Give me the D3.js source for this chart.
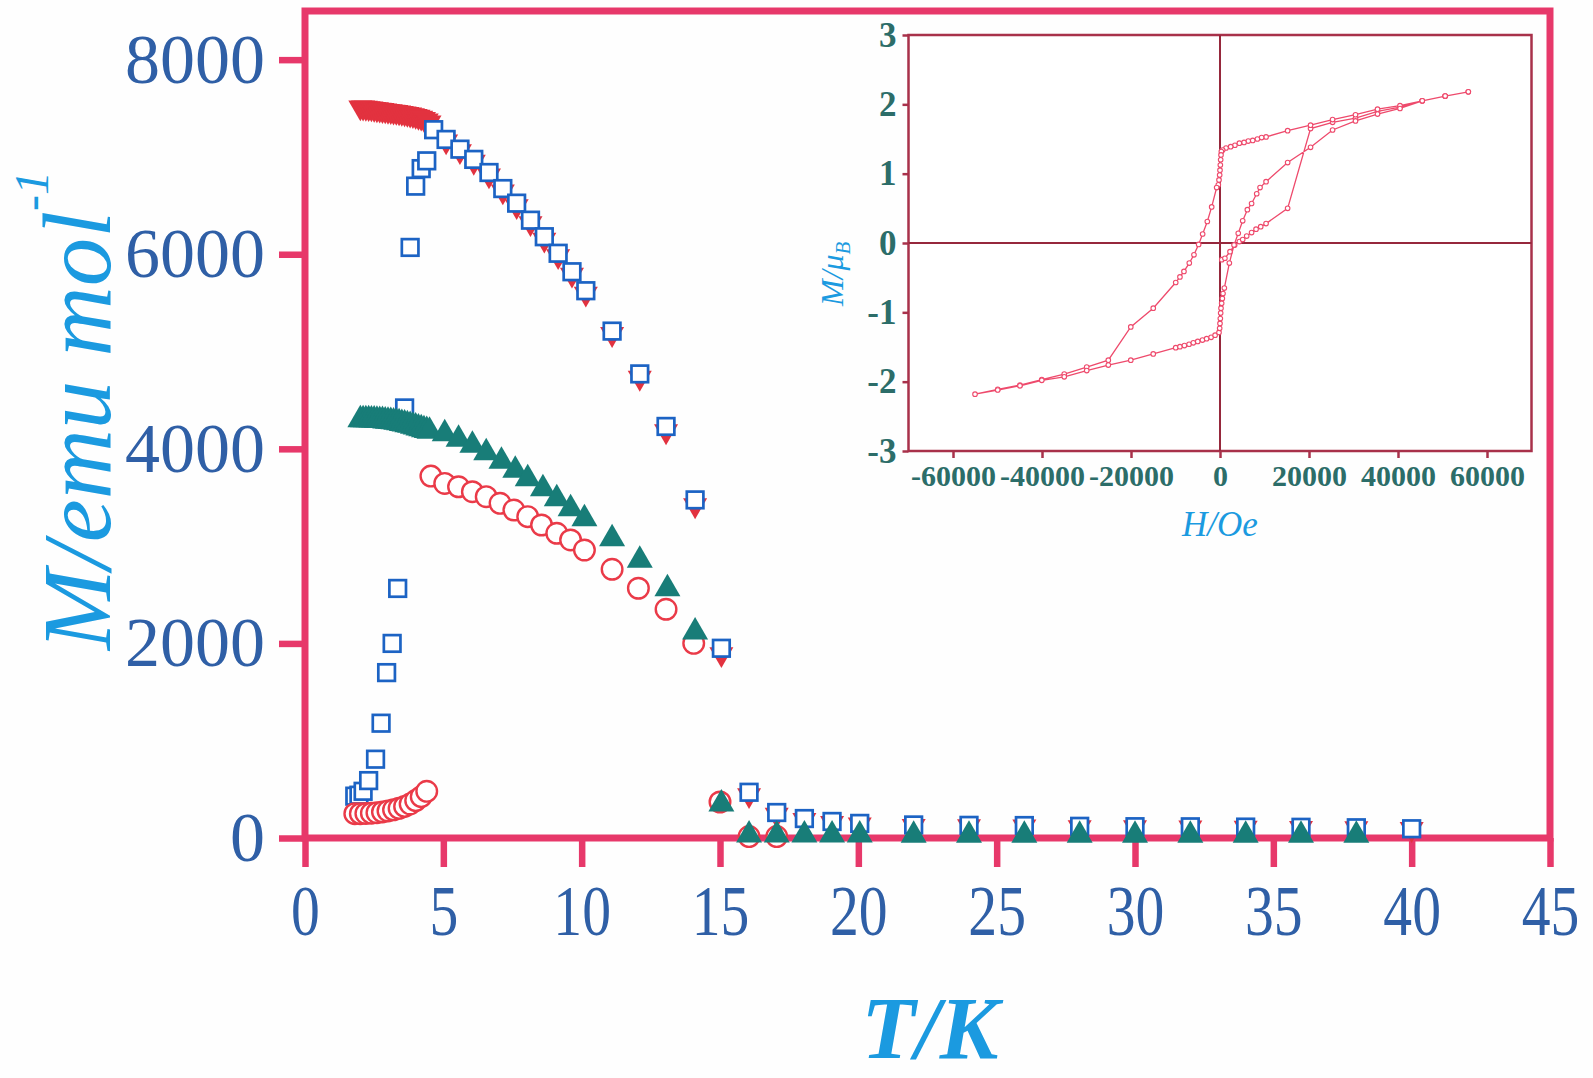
<!DOCTYPE html>
<html>
<head>
<meta charset="utf-8">
<script src="https://cdn.jsdelivr.net/npm/d3@7"></script>
<style>
body { margin: 0; background: #fff; }
</style>
</head>
<body>
<svg width="1593" height="1078"></svg>
<script>
// main plot: M vs T
var xTicks = [0, 5, 10, 15, 20, 25, 30, 35, 40, 45];
var yTicks = [0, 2000, 4000, 6000, 8000];

// blue open squares
var sqT = [1.8, 1.95, 2.1, 2.3, 2.55, 2.75, 2.95, 3.15, 3.35, 3.6, 3.8, 4.0, 4.2, 4.4, 4.65, 5.1, 5.6, 6.1, 6.65, 7.15, 7.65, 8.15, 8.65, 9.15, 9.65, 10.15, 11.1, 12.1, 13.05, 14.1, 15.05, 16.05, 17.05, 18.05, 19.05, 20.05, 22, 24, 26, 28, 30, 32, 34, 36, 38, 40];
var sqM = [430, 440, 480, 590, 810, 1180, 1700, 2000, 2565, 4420, 6070, 6700, 6880, 6960, 7280, 7180, 7080, 6975, 6840, 6675, 6525, 6350, 6180, 6010, 5820, 5625, 5210, 4770, 4230, 3475, 1950, 470, 262, 200, 170, 150, 134, 130, 128, 120, 116, 115, 112, 110, 105, 95];

// red filled down triangles
var rtT = [2.0, 2.1, 2.2, 2.3, 2.4, 2.5, 2.6, 2.7, 2.8, 2.9, 3.0, 3.1, 3.2, 3.3, 3.4, 3.5, 3.6, 3.7, 3.8, 3.9, 4.0, 4.1, 4.2, 4.3, 4.4, 4.5, 5.1, 5.6, 6.1, 6.65, 7.15, 7.65, 8.15, 8.65, 9.15, 9.65, 10.15, 11.1, 12.1, 13.05, 14.1, 15.05, 16.05, 17.05, 18.05, 19.05, 20.05, 22, 24, 26, 28, 30, 32, 34, 36, 38, 40];
var rtM = [7510, 7508, 7505, 7502, 7498, 7494, 7490, 7486, 7482, 7478, 7474, 7470, 7466, 7462, 7458, 7453, 7448, 7442, 7436, 7430, 7422, 7413, 7403, 7390, 7375, 7355, 7160, 7060, 6950, 6810, 6645, 6495, 6320, 6150, 5980, 5790, 5595, 5180, 4730, 4180, 3420, 1890, 440, 240, 185, 155, 140, 125, 122, 120, 112, 110, 108, 105, 104, 100, 92];

// red open circles
var ciT = [1.8, 2.0, 2.2, 2.4, 2.6, 2.8, 3.0, 3.2, 3.4, 3.6, 3.8, 4.0, 4.2, 4.4, 4.55, 5.05, 5.55, 6.05, 6.55, 7.05, 7.55, 8.05, 8.55, 9.1, 9.6, 10.1, 11.1, 12.05, 13.05, 14.05, 15.0, 16.05, 17.05];
var ciM = [250, 250, 252, 255, 260, 268, 278, 290, 305, 325, 350, 385, 425, 480, 3720, 3644, 3610, 3559, 3508, 3440, 3371, 3303, 3217, 3132, 3063, 2960, 2762, 2567, 2351, 2001, 370, 15, 15];

// green filled up triangles
var gtT = [2.0, 2.1, 2.2, 2.3, 2.4, 2.5, 2.6, 2.7, 2.8, 2.9, 3.0, 3.1, 3.2, 3.3, 3.4, 3.5, 3.6, 3.7, 3.8, 3.9, 4.0, 4.1, 4.2, 4.3, 4.4, 4.5, 5.05, 5.55, 6.05, 6.55, 7.1, 7.6, 8.05, 8.6, 9.1, 9.6, 10.1, 11.1, 12.1, 13.1, 14.1, 15.05, 16.05, 17.05, 18.05, 19.05, 20.05, 22, 24, 26, 28, 30, 32, 34, 36, 38];
var gtM = [4300, 4300, 4299, 4298, 4297, 4296, 4294, 4292, 4290, 4287, 4284, 4281, 4277, 4272, 4267, 4261, 4255, 4248, 4241, 4233, 4224, 4215, 4206, 4197, 4189, 4181, 4156, 4098, 4037, 3960, 3872, 3779, 3693, 3590, 3488, 3385, 3282, 3076, 2854, 2562, 2117, 350, 30, 30, 30, 30, 30, 28, 28, 28, 28, 28, 28, 28, 28, 28];

// inset: hysteresis loop, in measuring order (virgin, down, up)
var loopH = [400, 1100, 2250, 3300, 4350, 5100, 6000, 7100, 8100, 9150, 10350, 15200, 20350, 25300, 30450, 35400, 40450, 45450, 50600, 55800,
  50600, 45450, 40450, 35400, 30450, 25300, 20350, 15200, 10350, 9350, 8400, 7350, 6350, 5400, 4350, 3350, 2400, 1350, 600, 300, 225, 150, 75, 0, -75, -225, -375, -750, -1870, -2850, -3900, -4800, -5850, -6900, -8100, -9000, -9950, -15000, -20050, -25100, -29950, -35000, -40050, -44950, -49950, -55050,
  -49950, -44950, -40050, -35000, -29950, -25100, -20050, -15000, -9950, -9000, -8000, -6950, -6000, -5000, -3950, -3000, -2000, -1100, -225, -75, 0, 75, 150, 225, 375, 525, 675, 975, 2100, 3150, 4100, 5100, 6150, 7100, 8250, 9000, 10350, 15200, 20350, 25300, 30450, 35400, 40450, 45450, 50600, 55800];
var loopM = [-0.24, -0.22, -0.125, -0.03, 0.02, 0.05, 0.10, 0.15, 0.20, 0.235, 0.28, 0.50, 1.65, 1.74, 1.80, 1.90, 1.96, 2.05, 2.12, 2.18,
  2.12, 2.05, 1.98, 1.93, 1.85, 1.78, 1.70, 1.62, 1.53, 1.52, 1.50, 1.48, 1.47, 1.45, 1.44, 1.41, 1.39, 1.37, 1.34, 1.32, 1.27, 1.20, 1.125, 1.05, 0.98, 0.91, 0.84, 0.80, 0.52, 0.31, 0.13, -0.02, -0.17, -0.29, -0.41, -0.49, -0.57, -0.94, -1.21, -1.69, -1.79, -1.89, -1.97, -2.05, -2.11, -2.18,
  -2.12, -2.06, -1.98, -1.93, -1.84, -1.76, -1.69, -1.60, -1.51, -1.495, -1.48, -1.46, -1.44, -1.42, -1.40, -1.38, -1.36, -1.33, -1.29, -1.23, -1.16, -1.09, -1.01, -0.94, -0.87, -0.80, -0.73, -0.65, -0.29, -0.03, 0.14, 0.32, 0.48, 0.57, 0.71, 0.80, 0.885, 1.16, 1.38, 1.63, 1.76, 1.86, 1.94, 2.05, 2.12, 2.18];
var inXTicks = [-60000, -40000, -20000, 0, 20000, 40000, 60000];
var inYTicks = [-3, -2, -1, 0, 1, 2, 3];

var serif = '"Liberation Serif", "Times New Roman", serif';
var pink = '#e7386a';
var tickBlue = '#2f5fa6';
var titleBlue = '#1b9ae0';

var svg = d3.select('svg');
svg.append('rect').attr('width', 1593).attr('height', 1078).attr('fill', '#fefefe');

var x = d3.scaleLinear().domain([0, 45]).range([305, 1550]);
var y = d3.scaleLinear().domain([0, 8500]).range([838, 11]);

// axes
var gx = svg.append('g').attr('transform', 'translate(0,838)')
  .call(d3.axisBottom(x).tickValues(xTicks).tickSize(29).tickPadding(17).tickFormat(d3.format('d')));
gx.select('.domain').remove();
gx.selectAll('line').attr('stroke', pink).attr('stroke-width', 6.5);
gx.selectAll('text').attr('font-family', serif).attr('font-size', 72).attr('fill', tickBlue)
  .attr('transform', 'scale(0.8,1)');

var gy = svg.append('g').attr('transform', 'translate(305,0)')
  .call(d3.axisLeft(y).tickValues(yTicks).tickSize(26).tickPadding(14).tickFormat(d3.format('d')));
gy.select('.domain').remove();
gy.selectAll('line').attr('stroke', pink).attr('stroke-width', 6.5);
gy.selectAll('text').attr('font-family', serif).attr('font-size', 70).attr('fill', tickBlue);

svg.append('rect').attr('x', 305).attr('y', 11).attr('width', 1245).attr('height', 827)
  .attr('fill', 'none').attr('stroke', pink).attr('stroke-width', 7);

// titles
svg.append('text').attr('x', 930).attr('y', 1058).attr('text-anchor', 'middle')
  .attr('font-family', serif).attr('font-style', 'italic').attr('font-weight', 'bold').attr('font-size', 88)
  .attr('fill', titleBlue).text('T/K');

var yt = svg.append('text').attr('transform', 'translate(110,650) rotate(-90)')
  .attr('font-family', serif).attr('font-style', 'italic').attr('fill', titleBlue);
yt.append('tspan').attr('font-size', 97).text('M/emu mol');
yt.append('tspan').attr('font-size', 48).attr('dy', -62).text('-1');

// markers
var triBig = d3.symbol().type(d3.symbolTriangle).size(292)();
var triRed = d3.symbol().type(d3.symbolTriangle).size(250)();

svg.append('g').selectAll('path').data(d3.range(rtT.length)).join('path')
  .attr('d', triRed)
  .attr('transform', function(i) { return 'translate(' + x(rtT[i]) + ',' + y(rtM[i]) + ') rotate(180)'; })
  .attr('fill', '#e2323f');

svg.append('g').selectAll('rect').data(d3.range(sqT.length)).join('rect')
  .attr('x', function(i) { return x(sqT[i]) - 8.3; })
  .attr('y', function(i) { return y(sqM[i]) - 8.3; })
  .attr('width', 16.6).attr('height', 16.6)
  .attr('fill', '#fff').attr('stroke', '#1c63c4').attr('stroke-width', 2.7);

svg.append('g').selectAll('circle').data(d3.range(ciT.length)).join('circle')
  .attr('cx', function(i) { return x(ciT[i]); })
  .attr('cy', function(i) { return y(ciM[i]); })
  .attr('r', 10.3)
  .attr('fill', '#fff').attr('stroke', '#ea3a48').attr('stroke-width', 2.4);

svg.append('g').selectAll('path').data(d3.range(gtT.length)).join('path')
  .attr('d', triBig)
  .attr('transform', function(i) { return 'translate(' + x(gtT[i]) + ',' + y(gtM[i]) + ')'; })
  .attr('fill', '#187d78');

// inset
var ix = d3.scaleLinear().domain([-70000, 70000]).range([908.5, 1531.5]);
var iy = d3.scaleLinear().domain([-3, 3]).range([451, 35]);
var maroon = '#a8314a';
var teal = '#2c6d69';

svg.append('rect').attr('x', 908.5).attr('y', 35).attr('width', 623).attr('height', 416)
  .attr('fill', '#fff').attr('stroke', maroon).attr('stroke-width', 2.5);
svg.append('line').attr('x1', ix(0)).attr('x2', ix(0)).attr('y1', 35).attr('y2', 451)
  .attr('stroke', '#96283c').attr('stroke-width', 2);
svg.append('line').attr('x1', 908.5).attr('x2', 1531.5).attr('y1', iy(0)).attr('y2', iy(0))
  .attr('stroke', '#96283c').attr('stroke-width', 2);

var igx = svg.append('g').attr('transform', 'translate(0,451)')
  .call(d3.axisBottom(ix).tickValues(inXTicks).tickSize(7).tickPadding(7).tickFormat(function(d) { return String(d); }));
igx.select('.domain').remove();
igx.selectAll('line').attr('stroke', maroon).attr('stroke-width', 2.5);
igx.selectAll('text').attr('font-family', serif).attr('font-weight', 'bold').attr('font-size', 30).attr('fill', teal);

var igy = svg.append('g').attr('transform', 'translate(908.5,0)')
  .call(d3.axisLeft(iy).tickValues(inYTicks).tickSize(6).tickPadding(6).tickFormat(function(d) { return String(d); }));
igy.select('.domain').remove();
igy.selectAll('line').attr('stroke', maroon).attr('stroke-width', 2.5);
igy.selectAll('text').attr('font-family', serif).attr('font-weight', 'bold').attr('font-size', 35).attr('fill', teal);

var loopLine = d3.line()
  .x(function(i) { return ix(loopH[i]); })
  .y(function(i) { return iy(loopM[i]); });
svg.append('path').datum(d3.range(loopH.length)).attr('d', loopLine)
  .attr('fill', 'none').attr('stroke', '#ee4a6c').attr('stroke-width', 1.3);
svg.append('g').selectAll('circle').data(d3.range(loopH.length)).join('circle')
  .attr('cx', function(i) { return ix(loopH[i]); })
  .attr('cy', function(i) { return iy(loopM[i]); })
  .attr('r', 2.3).attr('fill', '#fff').attr('stroke', '#ee4a6c').attr('stroke-width', 1.1);

svg.append('text').attr('x', 1220).attr('y', 536).attr('text-anchor', 'middle')
  .attr('font-family', serif).attr('font-style', 'italic').attr('font-size', 35)
  .attr('fill', titleBlue).text('H/Oe');

var it = svg.append('text').attr('transform', 'translate(843,306) rotate(-90)')
  .attr('font-family', serif).attr('font-style', 'italic').attr('fill', titleBlue);
it.append('tspan').attr('font-size', 32).text('M/\u03bc');
it.append('tspan').attr('font-size', 21).attr('dy', 7).text('B');
</script>
</body>
</html>
